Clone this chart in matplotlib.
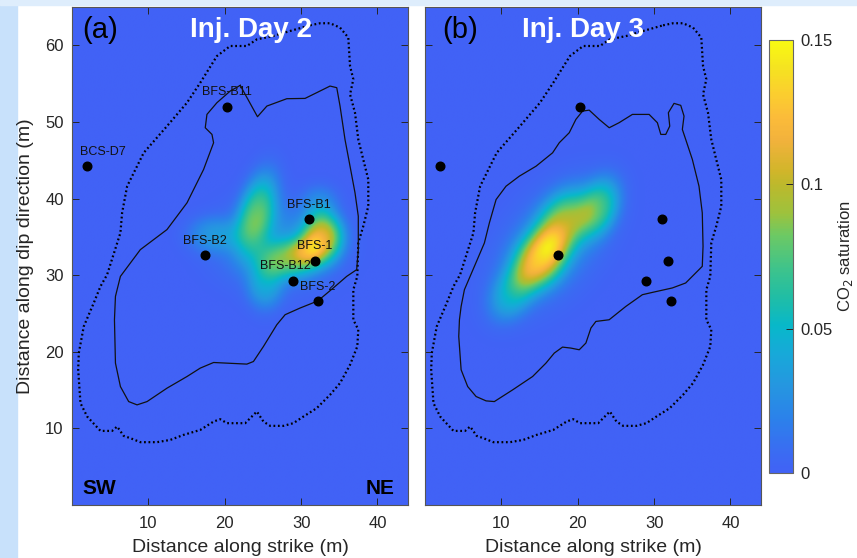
import numpy as np
import matplotlib
matplotlib.use("Agg")
import matplotlib.pyplot as plt
from matplotlib.colors import LinearSegmentedColormap
from matplotlib.patches import Rectangle

plt.rcParams['font.family'] = ['Liberation Sans', 'DejaVu Sans']

# ---------------- data ----------------
# Well locations (m along strike, m along dip)
well_names = ["BFS-B11", "BCS-D7", "BFS-B1", "BFS-B2", "BFS-1", "BFS-B12", "BFS-2"]
well_x = [20.3, 2.0, 31.0, 17.4, 31.8, 28.9, 32.2]
well_y = [52.0, 44.2, 37.3, 32.6, 31.9, 29.3, 26.6]

# Outer (dotted) boundary, same on both days
outer_x = [31.18, 32.48, 33.79, 35.10, 36.18, 36.41, 36.84, 36.41, 37.06, 37.49, 38.14, 38.80,
           38.80, 38.14, 37.49, 37.36, 36.84, 36.84, 37.49, 37.36, 36.41, 35.10, 33.79, 32.05,
           30.30, 28.99, 27.69, 25.95, 25.07, 24.21, 23.33, 22.68, 20.29, 19.41, 18.54, 16.80,
           14.61, 12.88, 11.14, 8.95, 7.65, 6.77, 5.91, 5.25, 3.73, 1.99, 1.11, 0.81, 0.89,
           1.54, 2.85, 3.73, 4.60, 6.34, 6.56, 7.22, 9.39, 12.44, 15.06, 16.80, 18.98, 20.72,
           22.90, 24.21, 26.38, 28.56, 31.18]
outer_y = [62.61, 62.88, 62.88, 62.31, 61.01, 57.29, 55.56, 53.59, 51.20, 47.71, 45.10, 42.48,
           38.99, 36.38, 34.21, 29.84, 28.10, 24.18, 22.88, 20.69, 18.30, 15.91, 14.38, 12.64,
           11.54, 10.68, 10.33, 10.33, 10.89, 12.20, 11.33, 10.68, 10.68, 11.20, 10.89, 9.80,
           9.15, 8.50, 8.20, 8.20, 8.72, 9.02, 10.24, 9.67, 9.67, 11.54, 13.29, 17.65, 19.83,
           23.31, 26.37, 28.54, 30.07, 35.52, 38.13, 41.61, 45.97, 49.45, 52.51, 55.12, 58.60,
           59.91, 59.91, 60.78, 61.22, 61.87, 62.61]

# Inner (solid) boundary, injection day 2
inner2_x = [22.03, 24.29, 25.52, 28.13, 30.52, 32.05, 33.79, 34.67, 35.10, 35.75, 36.41, 37.06,
            37.49, 37.49, 37.28, 35.97, 34.22, 32.18, 29.87, 27.91, 26.82, 25.07, 23.76, 22.90,
            18.54, 16.80, 15.06, 12.44, 9.83, 8.52, 7.42, 6.34, 5.69, 5.56, 5.69, 6.34, 8.95,
            12.44, 15.06, 17.23, 18.54, 18.33, 17.45, 17.67, 18.98, 20.72, 22.03]
inner2_y = [54.77, 50.68, 52.07, 53.03, 53.07, 53.82, 54.68, 54.47, 52.07, 47.71, 44.22, 40.75,
            37.69, 33.33, 30.72, 29.84, 28.33, 26.63, 25.71, 24.84, 23.53, 20.69, 18.73, 18.39,
            18.60, 17.87, 16.77, 15.25, 13.50, 13.07, 13.50, 15.46, 18.52, 24.18, 27.23, 29.84,
            33.33, 35.95, 39.44, 43.79, 47.28, 48.37, 49.24, 50.98, 52.51, 54.03, 54.77]

# Inner (solid) boundary, injection day 3
inner3_x = [20.63, 21.50, 22.81, 24.12, 25.42, 27.16, 29.35, 30.43, 30.88, 31.53, 32.05, 31.87,
            32.61, 33.49, 33.92, 33.70, 34.14, 35.01, 35.88, 36.31, 36.41, 36.31, 35.66, 34.14,
            32.39, 29.78, 28.47, 26.30, 24.12, 22.38, 21.73, 21.07, 20.20, 19.11, 18.01, 16.93,
            15.84, 14.09, 11.48, 9.08, 8.00, 6.69, 5.59, 4.73, 4.42, 4.51, 4.73, 5.16, 6.47,
            7.78, 8.43, 9.31, 10.61, 12.35, 14.54, 16.71, 17.58, 18.89, 19.76, 20.63]
inner3_y = [51.41, 51.54, 50.33, 49.24, 49.90, 50.98, 50.98, 49.90, 48.37, 48.37, 49.45, 51.20,
            52.42, 52.16, 50.76, 49.02, 47.71, 45.10, 41.61, 38.13, 33.76, 31.15, 30.50, 28.98,
            28.33, 27.75, 27.45, 25.92, 24.18, 23.96, 23.10, 21.14, 20.26, 20.48, 20.61, 19.83,
            18.52, 16.77, 15.03, 13.50, 13.59, 14.16, 15.46, 17.65, 22.00, 24.18, 25.92, 28.10,
            31.15, 34.21, 36.82, 39.87, 41.61, 42.92, 44.22, 45.97, 47.28, 48.59, 50.33, 51.41]

# CO2 saturation plume components: centre (x, y), spread (m), tilt (deg), peak saturation
day2_cx = [26.8, 24.2, 32.9, 28.4, 25.3, 18.4, 32.5, 30.8]
day2_cy = [34.0, 38.2, 35.0, 32.1, 28.6, 35.3, 39.6, 33.2]
day2_sx = [5.6, 1.8, 2.0, 3.0, 1.8, 2.5, 1.8, 1.6]
day2_sy = [4.0, 4.0, 2.4, 1.9, 2.4, 1.8, 1.7, 1.6]
day2_ang = [0, -15, 0, 0, 0, 0, 0, 0]
day2_amp = [0.028, 0.066, 0.095, 0.058, 0.034, 0.026, 0.020, 0.034]

day3_cx = [16.6, 15.0, 18.0, 22.8, 11.3]
day3_cy = [34.0, 32.0, 36.8, 38.8, 27.5]
day3_sx = [4.0, 2.3, 2.3, 1.9, 2.0]
day3_sy = [6.8, 3.1, 3.4, 3.0, 2.8]
day3_ang = [-40, -35, -30, -20, -30]
day3_amp = [0.028, 0.094, 0.068, 0.058, 0.038]

panel_tags = ["(a)", "(b)"]
panel_titles = ["Inj. Day 2", "Inj. Day 3"]
cbar_ticks = [0, 0.05, 0.1, 0.15]
cbar_ticklabels = ["0", "0.05", "0.1", "0.15"]
x_ticks = [10, 20, 30, 40]
y_ticks = [10, 20, 30, 40, 50, 60]

# ---------------- colour map ----------------
cmap_stops = [
    (0.000, '#4162f6'), (0.049, '#3a6cf2'), (0.127, '#2b82ea'), (0.203, '#2597e0'),
    (0.280, '#16aad8'), (0.340, '#08b8c9'), (0.410, '#22bea3'), (0.470, '#3dc38c'),
    (0.550, '#6dc963'), (0.600, '#9dc23d'), (0.665, '#bcb92c'), (0.700, '#d2b52a'),
    (0.770, '#f2b23c'), (0.820, '#fbbb3a'), (0.880, '#fbcf2e'), (0.940, '#f5e420'),
    (1.000, '#f9fa12')]
cmap = LinearSegmentedColormap.from_list("sat", cmap_stops)


def plume(cx, cy, sx, sy, ang, amp, X, Y):
    field = np.zeros_like(X)
    for x0, y0, a, b, t, A in zip(cx, cy, sx, sy, ang, amp):
        th = np.deg2rad(t)
        dx, dy = X - x0, Y - y0
        u = dx * np.cos(th) + dy * np.sin(th)
        v = -dx * np.sin(th) + dy * np.cos(th)
        r2 = (u / a) ** 2 + (v / b) ** 2
        field += A * np.exp(-0.5 * r2 ** 1.25)
    return field


gx = np.linspace(0, 44, 441)
gy = np.linspace(0, 65, 651)
X, Y = np.meshgrid(gx, gy)
fields = [plume(day2_cx, day2_cy, day2_sx, day2_sy, day2_ang, day2_amp, X, Y),
          plume(day3_cx, day3_cy, day3_sx, day3_sy, day3_ang, day3_amp, X, Y)]
inners = [(inner2_x, inner2_y), (inner3_x, inner3_y)]

# ---------------- figure ----------------
W, H = 857, 558
fig = plt.figure(figsize=(W / 100, H / 100), dpi=100)
fig.patch.set_facecolor('white')
fig.add_artist(Rectangle((0, 0), 17 / W, 1, transform=fig.transFigure,
                         color='#c8e1fb', zorder=-10))
fig.add_artist(Rectangle((0, 1 - 4.5 / H), 1, 4.5 / H, transform=fig.transFigure,
                         color='#deedfc', zorder=-10))

ax_w, ax_h = 336 / W, 498 / H
ax_b = (H - 505) / H
lefts = [72 / W, 425 / W]
tag_x = [0.030, 0.050]
title_x = [0.534, 0.471]
ink = '#262626'

for i in range(2):
    ax = fig.add_axes([lefts[i], ax_b, ax_w, ax_h])
    im = ax.imshow(fields[i], extent=[0, 44, 0, 65], origin='lower', cmap=cmap,
                   vmin=0, vmax=0.15, interpolation='bilinear', aspect='auto')
    ax.plot(outer_x, outer_y, color='black', lw=1.6, linestyle=(0, (0.8, 1.2)),
            dash_capstyle='butt')
    ax.plot(inners[i][0], inners[i][1], color='#111111', lw=0.9)
    ax.plot(well_x, well_y, 'o', color='black', ms=6.2, mec='black')
    if i == 0:
        offs = {"BCS-D7": (2.0, 1.9), "BFS-B12": (-1.0, 1.9)}
        for n, x, y in zip(well_names, well_x, well_y):
            dx, dy = offs.get(n, (0.0, 1.9))
            ax.text(x + dx, y + dy, n, fontsize=9, ha='center', va='center', color='#111111')
    ax.set_xlim(0, 44)
    ax.set_ylim(0, 65)
    ax.set_xticks(x_ticks)
    ax.set_yticks(y_ticks)
    ax.tick_params(direction='in', length=5, width=0.7, color=ink, labelcolor=ink,
                   labelsize=12, top=True, right=True, pad=8)
    ax.tick_params(axis='y', pad=6)
    if i == 1:
        ax.set_yticklabels([])
    for s in ax.spines.values():
        s.set_color('#555555')
        s.set_linewidth(0.8)
    ax.set_xlabel("Distance along strike (m)", fontsize=14, color=ink, labelpad=6)
    if i == 0:
        ax.set_ylabel("Distance along dip direction (m)", fontsize=14, color=ink, labelpad=8)
        ax.text(0.030, 0.033, "SW", transform=ax.transAxes, fontsize=15, fontweight='bold',
                ha='left', va='center', color='black')
        ax.text(0.961, 0.033, "NE", transform=ax.transAxes, fontsize=15, fontweight='bold',
                ha='right', va='center', color='black')
    ax.text(tag_x[i], 0.954, panel_tags[i], transform=ax.transAxes, fontsize=21,
            ha='left', va='center', color='black')
    ax.text(title_x[i], 0.954, panel_titles[i], transform=ax.transAxes, fontsize=20,
            fontweight='bold', ha='center', va='center', color='white')

cax = fig.add_axes([769 / W, (H - 473) / H, 24 / W, 433 / H])
cb = fig.colorbar(im, cax=cax, ticks=cbar_ticks)
cb.ax.set_yticklabels(cbar_ticklabels)
cb.ax.tick_params(direction='in', length=5, width=0.7, color=ink, labelcolor=ink,
                  labelsize=12, pad=5)
cb.outline.set_edgecolor('#666666')
cb.outline.set_linewidth(0.8)
cb.set_label("CO$_2$ saturation", fontsize=12, color=ink, labelpad=3)

fig.savefig("out.png", dpi=100)
